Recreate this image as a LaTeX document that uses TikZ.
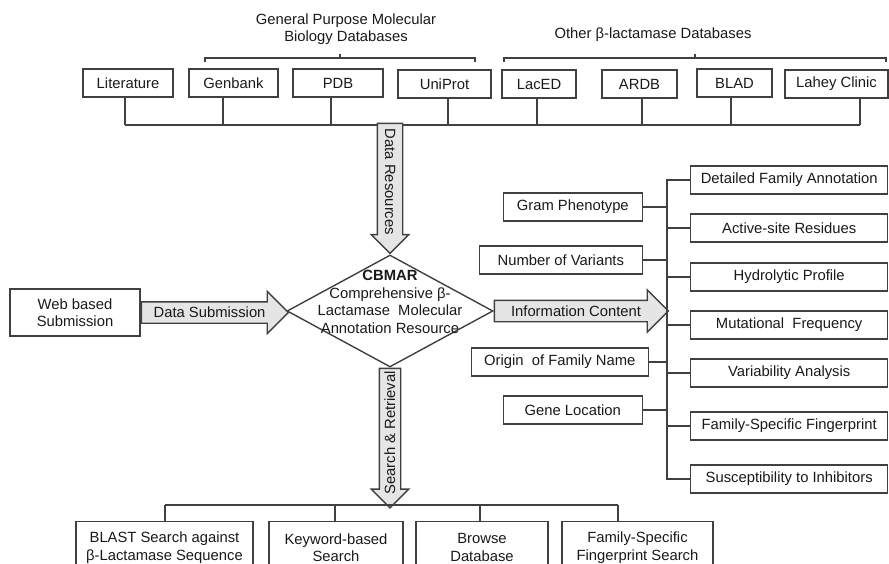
\documentclass[tikz,border=0pt]{standalone}
\usepackage{fontspec}
\setmainfont{Liberation Sans}
\usetikzlibrary{shapes.geometric,shapes.arrows}

\begin{document}
\begin{tikzpicture}
        [x=1pt, y=-1pt,
        font=\fontsize{14.8}{17.5}\selectfont, text=black!90,
        line/.style={draw=black!75, line width=1.4pt},
        box/.style={line, minimum height=28pt, inner sep=2pt},
        tallbox/.style={box, minimum height=47pt, align=center},
        feat/.style={box, minimum width=197pt, anchor=west},
        prop/.style={box, anchor=east},
        result/.style={box, minimum height=52pt, align=center, anchor=north},
        fat/.style={single arrow, line, fill=gray!20, text height=10pt, text depth=0pt, inner xsep=2pt, inner ysep=5pt, single arrow head extend=10.5pt}]
        \useasboundingbox (0,0) rectangle (889,564);
        \clip (0,0) rectangle (889,564);

        \node[align=center] (genLabel) at (346,29) {General Purpose Molecular\\Biology Databases};
        \node (otherLabel) at (653,35) {Other β-lactamase Databases};
        \draw[line] (205,62) -- (205,58) -- (475,58) -- (475,62);
        \draw[line] (340,58) -- (340,54);
        \draw[line] (504,62) -- (504,58) -- (886,58) -- (886,62);
        \draw[line] (695,58) -- (695,54);

        \node[box, minimum width=90pt] (lit) at (128,83) {Literature};
        \node[box, minimum width=89pt] (gen) at (233.5,83) {Genbank};
        \node[box, minimum width=90pt] (pdb) at (338,83) {PDB};
        \node[box, minimum width=93pt] (uni) at (444.5,84) {UniProt};
        \node[box, minimum width=74pt] (lac) at (539,84) {LacED};
        \node[box, minimum width=75pt] (ardb) at (639.5,84) {ARDB};
        \node[box, minimum width=75pt] (blad) at (734.5,83) {BLAD};
        \node[box, minimum width=103pt] (lahey) at (836.5,84) {Lahey Clinic};

        \draw[line] (125,125) -- (860,125);
        \foreach \n/\x in {lit/125,gen/223,pdb/331,uni/448,lac/537,ardb/642,blad/731,lahey/860}
            \draw[line] (\n.south -| \x,0) -- (\x,125);

        % CBMAR
        \node[diamond, line, aspect=1.84, minimum width=206pt, minimum height=112pt, inner sep=0pt] (cbmar) at (390,311) {};
        \node[align=center] (cbmarText) at (390,302) {\textbf{CBMAR}\\Comprehensive β-\\Lactamase~ Molecular\\Annotation Resource};

        \node[fat, rotate=-90, anchor=tip, minimum height=130pt, inner ysep=7pt, single arrow head extend=6pt] (resArrow) at (cbmar.north) {Data Resources};
        \node[fat, shape border rotate=180, rotate=90, anchor=tail, minimum height=136pt, single arrow head extend=8pt] (searchArrow) at (cbmar.south) {Search \& Retrieval};

        \node[tallbox, minimum width=130pt] (web) at (75,312.5) {Web based\\Submission};
        \node[fat, anchor=tail, minimum height=147pt] (subArrow) at (web.east) {Data Submission};
        \node[fat, anchor=tail, minimum height=174pt] (infoArrow) at (cbmar.east) {Information Content};

        % information content
        \coordinate (spine) at (667,0);
        \node[feat] (detailed) at (690,180) {Detailed Family Annotation};
        \node[feat] (active) at (690,228) {Active-site Residues};
        \node[feat] (hydro) at (690,277) {Hydrolytic Profile};
        \node[feat] (mut) at (690,325) {Mutational~ Frequency};
        \node[feat] (var) at (690,373) {Variability Analysis};
        \node[feat] (finger) at (690,426) {Family-Specific Fingerprint};
        \node[feat] (susc) at (690,479) {Susceptibility to Inhibitors};
        \node[prop, minimum width=139pt] (gram) at (643,207) {Gram Phenotype};
        \node[prop, minimum width=163pt] (number) at (643,260) {Number of Variants};
        \node[prop, minimum width=177pt] (origin) at (649,362) {Origin~ of Family Name};
        \node[prop, minimum width=139pt] (gene) at (643,410) {Gene Location};

        \draw[line] (detailed.west) -| (spine |- susc.west) -- (susc.west);
        \foreach \n in {active,hydro,mut,var,finger}
            \draw[line] (\n.west) -- (\n.west -| spine);
        \foreach \n in {gram,number,origin,gene}
            \draw[line] (\n.east) -- (\n.east -| spine);

        % search and retrieval
        \node[result, minimum width=177pt] (blast) at (164.5,521) {BLAST Search against\\β-Lactamase Sequence};
        \node[result, minimum width=134pt] (keyword) at (336,521) {Keyword-based\\Search};
        \node[result, minimum width=132pt] (browse) at (482,521) {Browse\\Database};
        \node[result, minimum width=151pt] (fam) at (637.5,521) {Family-Specific\\Fingerprint Search};

        \draw[line] (165,505) -- (618,505);
        \foreach \n/\x in {blast/165,keyword/335,browse/480,fam/618}
            \draw[line] (\n.north -| \x,0) -- (\x,505);

    \end{tikzpicture}
\end{document}
